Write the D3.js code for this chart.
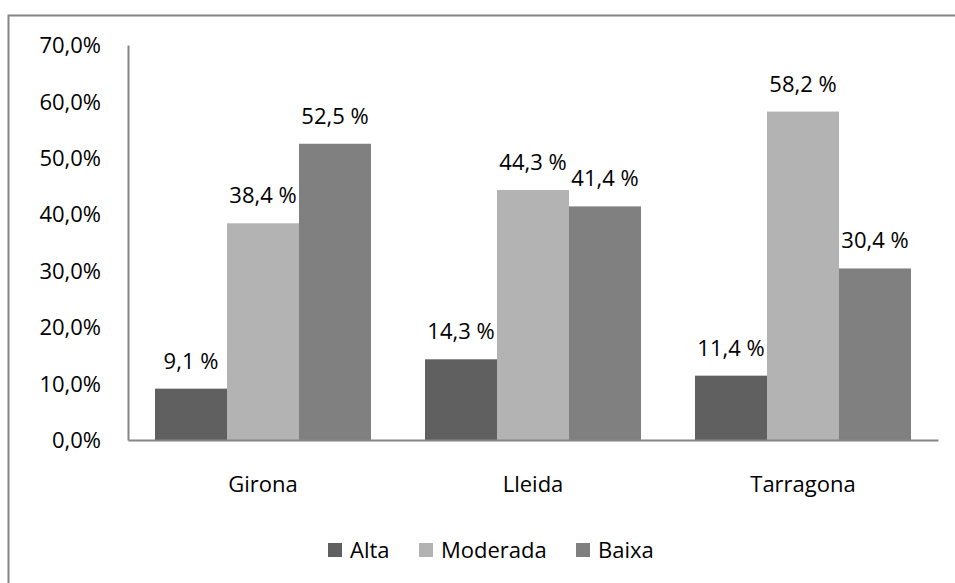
<!DOCTYPE html>
<html>
<head>
<meta charset="utf-8">
<script src="https://cdn.jsdelivr.net/npm/d3@7"></script>
<style>
  body { margin: 0; background: #fff; }
  svg text { font-family: "Open Sans", sans-serif; fill: #000; }
</style>
</head>
<body>
<div id="grafica"></div>
<script>
// datos
const provincies = ["Girona", "Lleida", "Tarragona"];
const series = ["Alta", "Moderada", "Baixa"];
const alta = [9.1, 14.3, 11.4];
const moderada = [38.4, 44.3, 58.2];
const baixa = [52.5, 41.4, 30.4];
const ticksY = [0, 10, 20, 30, 40, 50, 60, 70];
const colors = ["#606060", "#b3b3b3", "#808080"];

const anchoTotal = 955, altoTotal = 583;
const margins = { left: 128, top: 45, right: 17, bottom: 143 };
const ancho = anchoTotal - margins.left - margins.right;
const alto = altoTotal - margins.top - margins.bottom;

const svg = d3.select("#grafica").append("svg")
  .attr("width", anchoTotal)
  .attr("height", altoTotal);

// marco exterior
svg.append("rect")
  .attr("x", 8.5).attr("y", 15.5)
  .attr("width", 1000).attr("height", 700)
  .attr("fill", "none")
  .attr("stroke", "#868686")
  .attr("stroke-width", 2);

const g = svg.append("g")
  .attr("transform", `translate(${margins.left}, ${margins.top})`);

const x = d3.scaleBand().domain(provincies).range([0, ancho]).paddingInner(0).paddingOuter(0);
const xs = d3.scaleBand().domain(series).range([0, x.bandwidth()]).paddingInner(0).paddingOuter(0.375);
const y = d3.scaleLinear().domain([0, 70]).range([alto, 0]);

const data = provincies.flatMap((p, i) => [
  { prov: p, serie: "Alta", v: alta[i] },
  { prov: p, serie: "Moderada", v: moderada[i] },
  { prov: p, serie: "Baixa", v: baixa[i] }
]);

// barras
g.selectAll("rect.barra").data(data).join("rect")
  .attr("class", "barra")
  .attr("x", d => x(d.prov) + xs(d.serie))
  .attr("width", xs.bandwidth())
  .attr("y", d => y(d.v))
  .attr("height", d => alto - y(d.v))
  .attr("fill", d => colors[series.indexOf(d.serie)]);

// etiquetas de datos
g.selectAll("text.etiq").data(data).join("text")
  .attr("class", "etiq")
  .attr("x", d => x(d.prov) + xs(d.serie) + xs.bandwidth() / 2)
  .attr("y", d => y(d.v) - 20)
  .attr("text-anchor", "middle")
  .style("font-size", "22px")
  .text(d => d3.format(".1f")(d.v).replace(".", ",") + " %");

// eje Y
const yAxis = g.append("g")
  .call(d3.axisLeft(y).tickValues(ticksY).tickSize(0).tickPadding(27)
    .tickFormat(d => d3.format(".1f")(d).replace(".", ",") + "%"));
yAxis.select(".domain").attr("stroke", "#868686").attr("stroke-width", 2);
yAxis.selectAll("text").style("font-size", "22px").attr("dy", "0.35em");

// eje X
const xAxis = g.append("g")
  .attr("transform", `translate(0, ${alto})`)
  .call(d3.axisBottom(x).tickSize(0).tickPadding(36));
xAxis.select(".domain").attr("stroke", "#868686").attr("stroke-width", 2);
xAxis.selectAll("text").style("font-size", "22px");

// leyenda
const leyendaX = [328, 419, 576];
const leg = svg.append("g").selectAll("g").data(series).join("g")
  .attr("transform", (d, i) => `translate(${leyendaX[i]}, 550)`);
leg.append("rect").attr("x", 0).attr("y", -7).attr("width", 14).attr("height", 14)
  .attr("fill", (d, i) => colors[i]);
leg.append("text").attr("x", 22).attr("y", 0).attr("dy", "0.35em")
  .style("font-size", "22px").text(d => d);
</script>
</body>
</html>
